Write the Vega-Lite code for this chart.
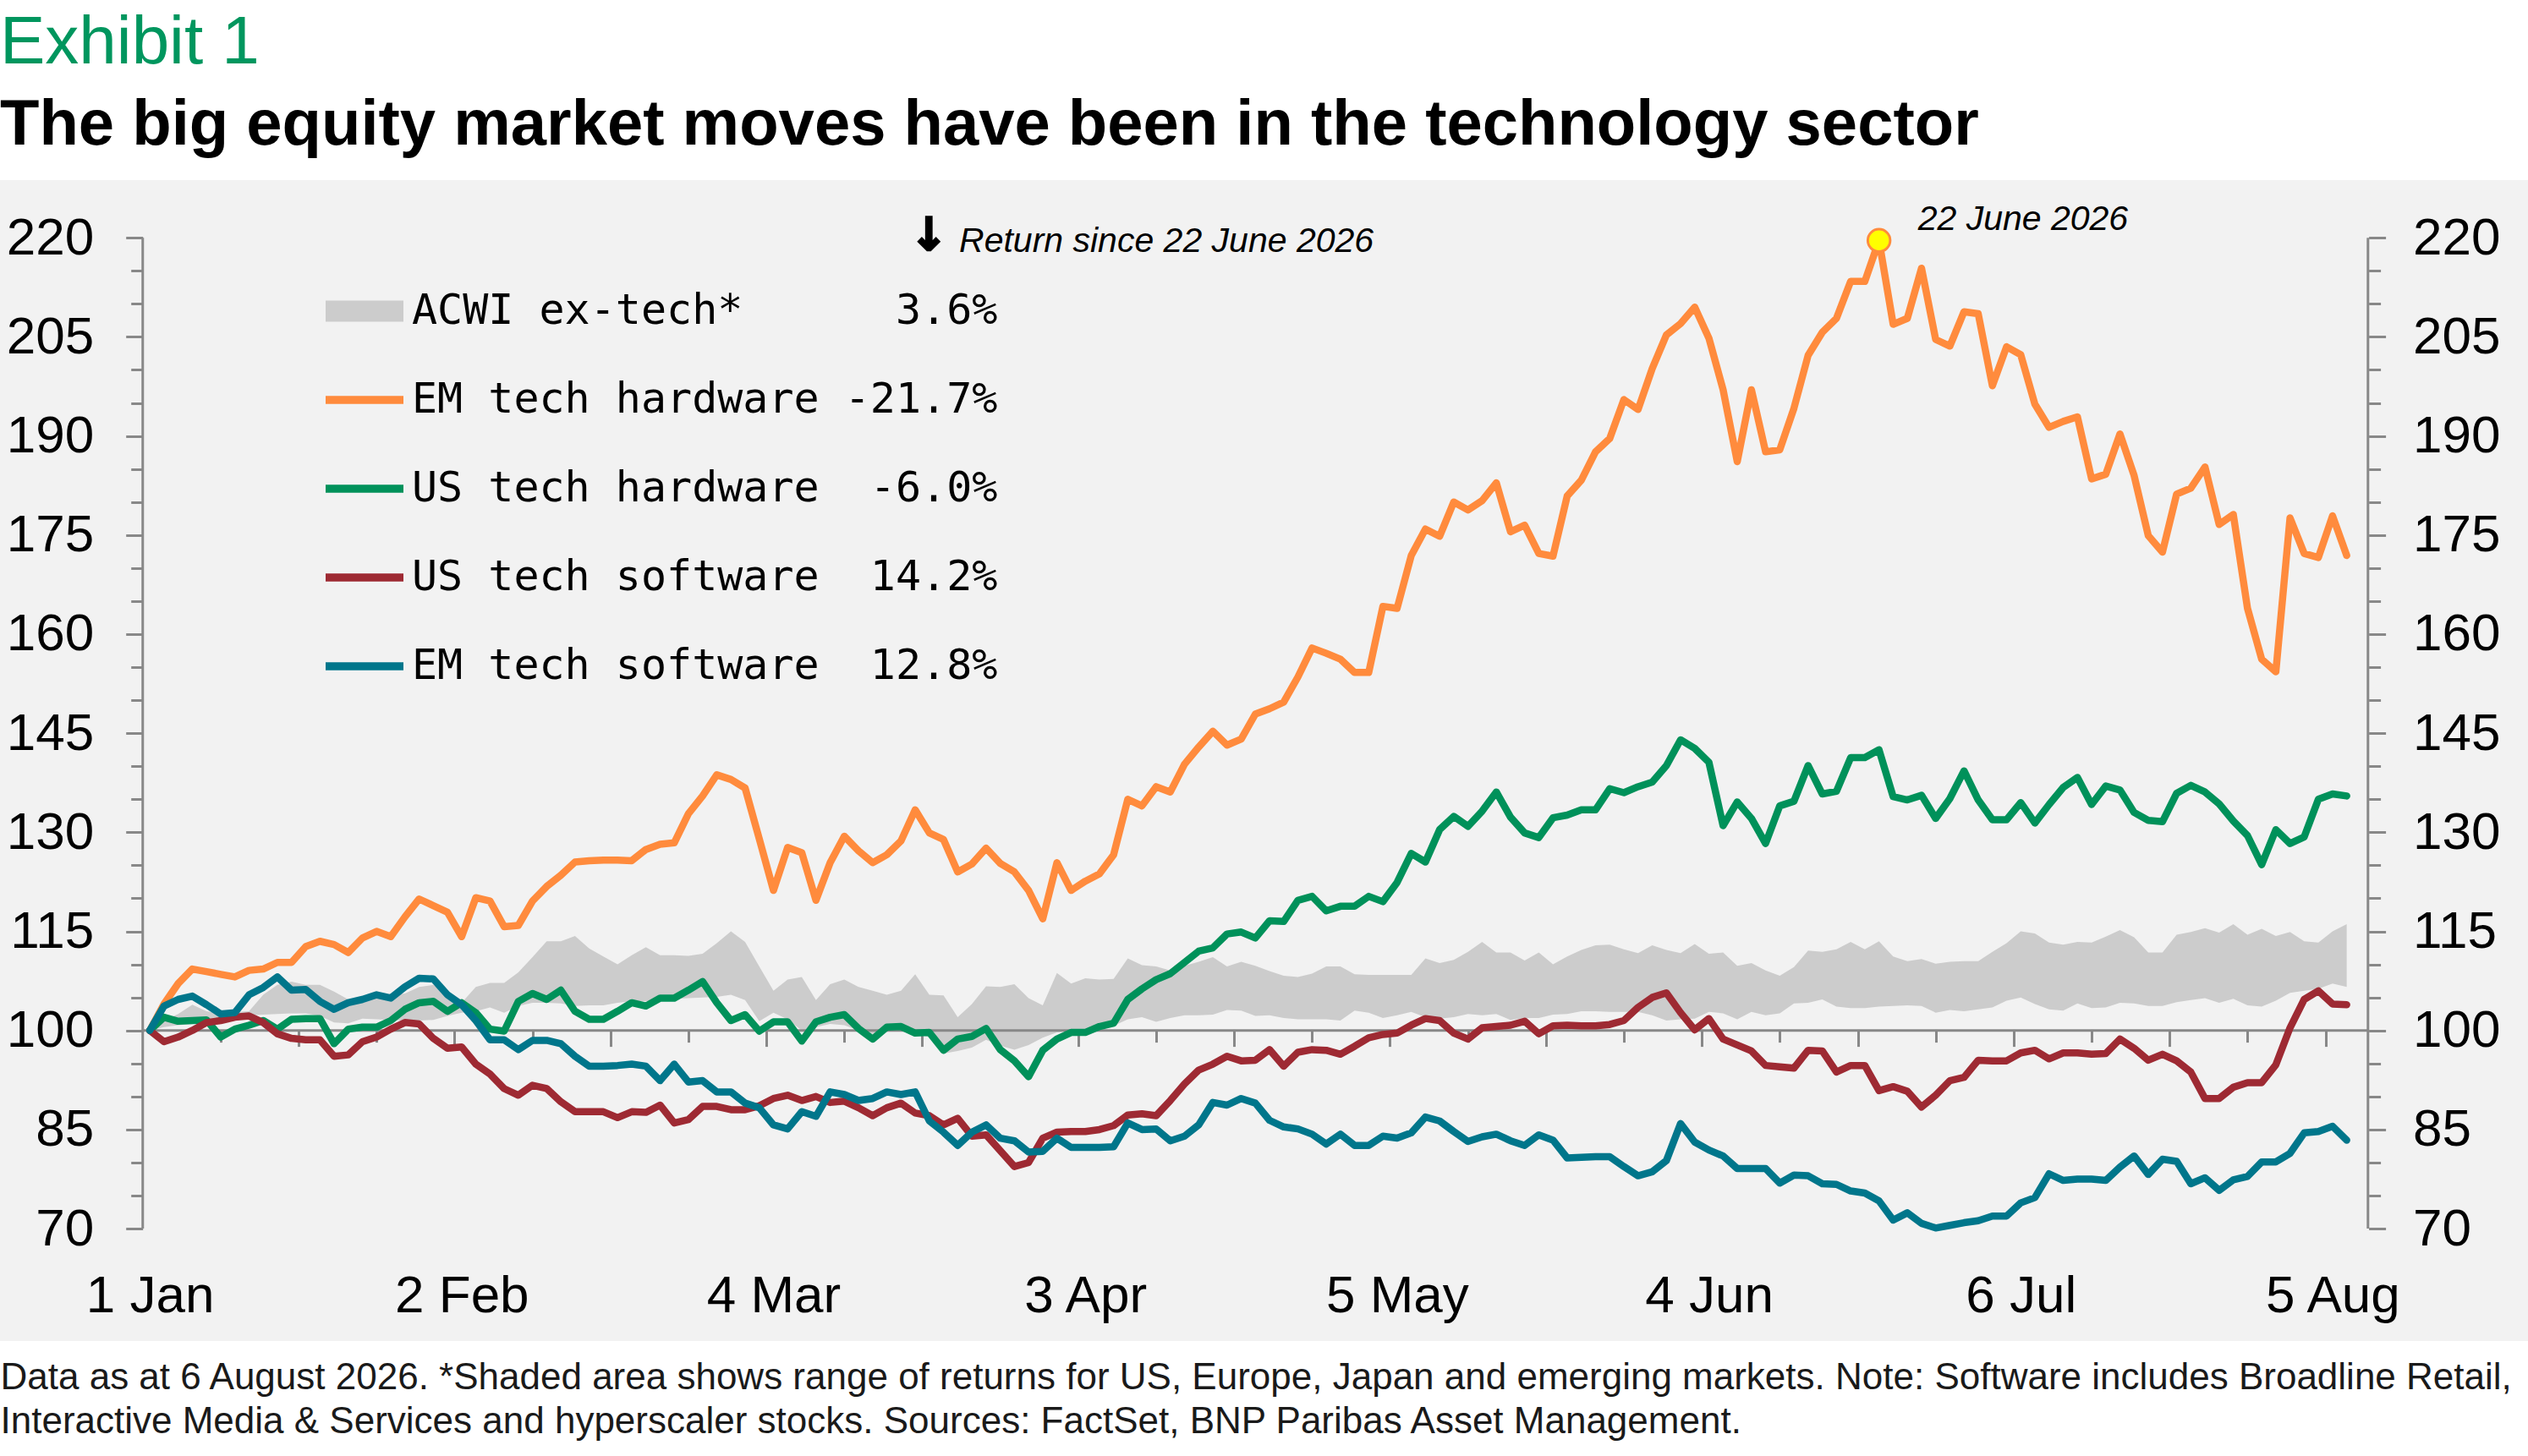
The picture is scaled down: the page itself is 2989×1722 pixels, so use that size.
{
  "$schema": "https://vega.github.io/schema/vega-lite/v6.json",
  "description": "Equity market moves: EM/US tech hardware and software vs ACWI ex-tech range, rebased to 100 on 1 Jan.",
  "width": 2989,
  "height": 1373,
  "autosize": {"type": "none"},
  "padding": {"left": 0, "top": 213, "right": 0, "bottom": 136},
  "background": "white",
  "config": {
    "view": {"fill": "#f2f2f2", "stroke": null},
    "font": "Liberation Sans"
  },
  "title": {
    "text": "Exhibit 1",
    "subtitle": "The big equity market moves have been in the technology sector",
    "anchor": "start",
    "frame": "group",
    "orient": "top",
    "font": "Liberation Sans",
    "fontSize": 80,
    "fontWeight": "normal",
    "color": "#00965e",
    "subtitleFont": "Liberation Sans",
    "subtitleFontSize": 76,
    "subtitleFontWeight": "bold",
    "subtitleColor": "#000000",
    "subtitlePadding": 19,
    "offset": 26
  },
  "data": {
    "values": [
      {"t":0,"EMH":100,"USH":100,"USS":100,"EMS":100,"lo":100,"hi":100},
      {"t":1,"EMH":104.0,"USH":102.0,"USS":98.3,"EMS":103.7,"lo":100.5,"hi":101.5},
      {"t":2,"EMH":107.1,"USH":101.4,"USS":99.0,"EMS":104.7,"lo":100.8,"hi":102.5},
      {"t":3,"EMH":109.3,"USH":101.5,"USS":100.0,"EMS":105.2,"lo":101.0,"hi":103.9},
      {"t":4,"EMH":108.9,"USH":101.6,"USS":101.2,"EMS":103.9,"lo":101.3,"hi":102.9},
      {"t":5,"EMH":108.5,"USH":99.0,"USS":101.5,"EMS":102.5,"lo":101.6,"hi":102.6},
      {"t":6,"EMH":108.1,"USH":100.2,"USS":102.0,"EMS":102.7,"lo":101.8,"hi":102.8},
      {"t":7,"EMH":109.1,"USH":100.8,"USS":102.2,"EMS":105.4,"lo":102.3,"hi":102.9},
      {"t":8,"EMH":109.3,"USH":101.5,"USS":101.2,"EMS":106.5,"lo":102.4,"hi":105.4},
      {"t":9,"EMH":110.3,"USH":100.2,"USS":99.5,"EMS":108.1,"lo":102.5,"hi":106.9},
      {"t":10,"EMH":110.3,"USH":101.7,"USS":98.8,"EMS":106.1,"lo":102.6,"hi":107.4},
      {"t":11,"EMH":112.7,"USH":101.8,"USS":98.6,"EMS":106.2,"lo":102.6,"hi":106.9},
      {"t":12,"EMH":113.5,"USH":101.8,"USS":98.6,"EMS":104.4,"lo":102.2,"hi":106.9},
      {"t":13,"EMH":113.0,"USH":98.0,"USS":96.1,"EMS":103.2,"lo":101.2,"hi":105.9},
      {"t":14,"EMH":111.8,"USH":100.2,"USS":96.3,"EMS":104.2,"lo":101.1,"hi":104.7},
      {"t":15,"EMH":114.0,"USH":100.5,"USS":98.3,"EMS":104.7,"lo":101.8,"hi":105.0},
      {"t":16,"EMH":115.0,"USH":100.5,"USS":99.0,"EMS":105.4,"lo":101.7,"hi":105.2},
      {"t":17,"EMH":114.2,"USH":101.5,"USS":100.2,"EMS":104.9,"lo":101.6,"hi":105.3},
      {"t":18,"EMH":117.2,"USH":103.2,"USS":101.2,"EMS":106.6,"lo":101.5,"hi":105.6},
      {"t":19,"EMH":119.9,"USH":104.2,"USS":101.0,"EMS":107.9,"lo":101.5,"hi":106.6},
      {"t":20,"EMH":118.9,"USH":104.4,"USS":98.8,"EMS":107.8,"lo":101.6,"hi":106.9},
      {"t":21,"EMH":117.9,"USH":102.9,"USS":97.3,"EMS":105.4,"lo":102.2,"hi":105.5},
      {"t":22,"EMH":114.2,"USH":104.2,"USS":97.5,"EMS":103.9,"lo":102.7,"hi":104.2},
      {"t":23,"EMH":120.1,"USH":102.7,"USS":94.9,"EMS":101.5,"lo":102.9,"hi":106.6},
      {"t":24,"EMH":119.6,"USH":100.2,"USS":93.4,"EMS":98.6,"lo":103.5,"hi":107.2},
      {"t":25,"EMH":115.7,"USH":99.9,"USS":91.2,"EMS":98.6,"lo":102.7,"hi":107.2},
      {"t":26,"EMH":115.9,"USH":104.4,"USS":90.2,"EMS":97.1,"lo":103.7,"hi":108.8},
      {"t":27,"EMH":119.6,"USH":105.6,"USS":91.7,"EMS":98.5,"lo":104.2,"hi":111.1},
      {"t":28,"EMH":121.8,"USH":104.7,"USS":91.2,"EMS":98.5,"lo":104.2,"hi":113.5},
      {"t":29,"EMH":123.5,"USH":106.1,"USS":89.2,"EMS":98.0,"lo":104.1,"hi":113.5},
      {"t":30,"EMH":125.5,"USH":102.9,"USS":87.7,"EMS":96.1,"lo":103.7,"hi":114.3},
      {"t":31,"EMH":125.7,"USH":101.7,"USS":87.7,"EMS":94.6,"lo":103.8,"hi":112.4},
      {"t":32,"EMH":125.8,"USH":101.7,"USS":87.7,"EMS":94.6,"lo":103.8,"hi":111.2},
      {"t":33,"EMH":125.8,"USH":102.9,"USS":86.8,"EMS":94.7,"lo":104.2,"hi":110.0},
      {"t":34,"EMH":125.7,"USH":104.2,"USS":87.7,"EMS":94.9,"lo":104.4,"hi":111.4},
      {"t":35,"EMH":127.4,"USH":103.7,"USS":87.6,"EMS":94.6,"lo":104.4,"hi":112.6},
      {"t":36,"EMH":128.2,"USH":104.9,"USS":88.7,"EMS":92.4,"lo":104.7,"hi":111.4},
      {"t":37,"EMH":128.4,"USH":104.9,"USS":86.0,"EMS":94.9,"lo":104.8,"hi":111.4},
      {"t":38,"EMH":132.8,"USH":106.1,"USS":86.5,"EMS":92.2,"lo":104.9,"hi":111.3},
      {"t":39,"EMH":135.5,"USH":107.4,"USS":88.5,"EMS":92.4,"lo":105.0,"hi":111.6},
      {"t":40,"EMH":138.7,"USH":104.2,"USS":88.5,"EMS":90.7,"lo":105.1,"hi":113.2},
      {"t":41,"EMH":138.0,"USH":101.5,"USS":88.0,"EMS":90.7,"lo":105.4,"hi":115.0},
      {"t":42,"EMH":136.7,"USH":102.4,"USS":88.0,"EMS":89.0,"lo":104.6,"hi":113.4},
      {"t":43,"EMH":129.0,"USH":99.9,"USS":88.6,"EMS":88.3,"lo":101.4,"hi":109.7},
      {"t":44,"EMH":121.2,"USH":101.3,"USS":89.7,"EMS":85.7,"lo":102.7,"hi":106.0},
      {"t":45,"EMH":127.7,"USH":101.3,"USS":90.2,"EMS":85.1,"lo":101.7,"hi":107.7},
      {"t":46,"EMH":126.9,"USH":98.4,"USS":89.4,"EMS":87.7,"lo":100.0,"hi":108.1},
      {"t":47,"EMH":119.7,"USH":101.3,"USS":90.0,"EMS":87.0,"lo":100.5,"hi":104.6},
      {"t":48,"EMH":125.4,"USH":102.0,"USS":89.1,"EMS":90.7,"lo":101.0,"hi":107.0},
      {"t":49,"EMH":129.4,"USH":102.4,"USS":89.3,"EMS":90.3,"lo":100.8,"hi":107.7},
      {"t":50,"EMH":127.2,"USH":100.3,"USS":88.3,"EMS":89.4,"lo":100.0,"hi":106.6},
      {"t":51,"EMH":125.4,"USH":98.7,"USS":87.1,"EMS":89.7,"lo":99.5,"hi":106.0},
      {"t":52,"EMH":126.6,"USH":100.5,"USS":88.3,"EMS":90.7,"lo":100.0,"hi":105.4},
      {"t":53,"EMH":128.7,"USH":100.6,"USS":89.0,"EMS":90.3,"lo":100.0,"hi":106.0},
      {"t":54,"EMH":133.4,"USH":99.6,"USS":87.5,"EMS":90.7,"lo":99.4,"hi":108.5},
      {"t":55,"EMH":129.9,"USH":99.7,"USS":87.1,"EMS":86.3,"lo":99.0,"hi":105.4},
      {"t":56,"EMH":128.9,"USH":97.0,"USS":85.7,"EMS":84.6,"lo":96.5,"hi":105.3},
      {"t":57,"EMH":124.0,"USH":98.7,"USS":86.7,"EMS":82.6,"lo":96.9,"hi":102.0},
      {"t":58,"EMH":125.2,"USH":99.1,"USS":84.0,"EMS":84.6,"lo":97.4,"hi":104.0},
      {"t":59,"EMH":127.6,"USH":100.3,"USS":84.2,"EMS":85.7,"lo":98.6,"hi":106.7},
      {"t":60,"EMH":125.3,"USH":97.1,"USS":81.8,"EMS":83.7,"lo":97.7,"hi":106.6},
      {"t":61,"EMH":124.0,"USH":95.4,"USS":79.4,"EMS":83.3,"lo":97.1,"hi":107.0},
      {"t":62,"EMH":121.2,"USH":93.0,"USS":80.0,"EMS":81.6,"lo":97.8,"hi":104.9},
      {"t":63,"EMH":116.9,"USH":97.0,"USS":83.7,"EMS":81.7,"lo":98.9,"hi":103.8},
      {"t":64,"EMH":125.4,"USH":98.7,"USS":84.6,"EMS":83.7,"lo":99.7,"hi":108.7},
      {"t":65,"EMH":121.2,"USH":99.7,"USS":84.7,"EMS":82.3,"lo":100.0,"hi":107.1},
      {"t":66,"EMH":122.6,"USH":99.7,"USS":84.7,"EMS":82.3,"lo":100.0,"hi":107.9},
      {"t":67,"EMH":123.7,"USH":100.6,"USS":85.0,"EMS":82.3,"lo":100.5,"hi":107.7},
      {"t":68,"EMH":126.6,"USH":101.1,"USS":85.6,"EMS":82.4,"lo":100.7,"hi":107.8},
      {"t":69,"EMH":135.0,"USH":104.7,"USS":87.2,"EMS":86.0,"lo":101.7,"hi":110.9},
      {"t":70,"EMH":134.0,"USH":106.3,"USS":87.4,"EMS":85.0,"lo":102.0,"hi":109.9},
      {"t":71,"EMH":136.9,"USH":107.7,"USS":87.1,"EMS":85.1,"lo":101.3,"hi":109.7},
      {"t":72,"EMH":136.1,"USH":108.6,"USS":89.4,"EMS":83.3,"lo":101.9,"hi":109.1},
      {"t":73,"EMH":140.3,"USH":110.3,"USS":91.9,"EMS":84.0,"lo":102.3,"hi":109.8},
      {"t":74,"EMH":142.9,"USH":112.0,"USS":94.0,"EMS":85.7,"lo":102.3,"hi":110.4},
      {"t":75,"EMH":145.3,"USH":112.5,"USS":94.9,"EMS":89.1,"lo":102.4,"hi":111.1},
      {"t":76,"EMH":143.2,"USH":114.6,"USS":96.1,"EMS":88.7,"lo":103.1,"hi":109.7},
      {"t":77,"EMH":144.1,"USH":114.9,"USS":95.4,"EMS":89.7,"lo":103.0,"hi":110.4},
      {"t":78,"EMH":147.9,"USH":114.0,"USS":95.5,"EMS":89.0,"lo":102.2,"hi":109.8},
      {"t":79,"EMH":148.7,"USH":116.6,"USS":97.1,"EMS":86.4,"lo":102.3,"hi":109.0},
      {"t":80,"EMH":149.7,"USH":116.5,"USS":94.6,"EMS":85.4,"lo":101.9,"hi":108.3},
      {"t":81,"EMH":153.5,"USH":119.7,"USS":96.7,"EMS":85.1,"lo":101.7,"hi":108.1},
      {"t":82,"EMH":157.9,"USH":120.3,"USS":97.1,"EMS":84.3,"lo":101.7,"hi":108.6},
      {"t":83,"EMH":157.1,"USH":118.1,"USS":97.0,"EMS":82.8,"lo":101.7,"hi":109.7},
      {"t":84,"EMH":156.2,"USH":118.8,"USS":96.4,"EMS":84.3,"lo":101.5,"hi":109.7},
      {"t":85,"EMH":154.2,"USH":118.8,"USS":97.6,"EMS":82.6,"lo":103.0,"hi":108.5},
      {"t":86,"EMH":154.2,"USH":120.3,"USS":98.9,"EMS":82.6,"lo":102.7,"hi":108.4},
      {"t":87,"EMH":164.2,"USH":119.5,"USS":99.4,"EMS":84.0,"lo":101.9,"hi":108.4},
      {"t":88,"EMH":163.9,"USH":122.4,"USS":99.6,"EMS":83.7,"lo":102.3,"hi":108.4},
      {"t":89,"EMH":171.9,"USH":126.8,"USS":100.8,"EMS":84.5,"lo":102.8,"hi":108.4},
      {"t":90,"EMH":175.9,"USH":125.5,"USS":101.8,"EMS":86.9,"lo":102.0,"hi":110.9},
      {"t":91,"EMH":174.8,"USH":130.4,"USS":101.5,"EMS":86.3,"lo":101.8,"hi":110.2},
      {"t":92,"EMH":180.0,"USH":132.4,"USS":99.6,"EMS":84.7,"lo":102.0,"hi":110.7},
      {"t":93,"EMH":178.8,"USH":130.9,"USS":98.7,"EMS":83.2,"lo":102.5,"hi":111.9},
      {"t":94,"EMH":180.2,"USH":133.2,"USS":100.4,"EMS":83.9,"lo":102.3,"hi":113.4},
      {"t":95,"EMH":182.9,"USH":136.1,"USS":100.6,"EMS":84.3,"lo":102.5,"hi":111.8},
      {"t":96,"EMH":175.5,"USH":132.3,"USS":100.8,"EMS":83.3,"lo":101.6,"hi":111.8},
      {"t":97,"EMH":176.5,"USH":129.9,"USS":101.4,"EMS":82.6,"lo":101.9,"hi":110.6},
      {"t":98,"EMH":172.2,"USH":129.2,"USS":99.5,"EMS":84.2,"lo":101.9,"hi":111.8},
      {"t":99,"EMH":171.8,"USH":132.2,"USS":100.7,"EMS":83.4,"lo":102.4,"hi":110.0},
      {"t":100,"EMH":180.9,"USH":132.6,"USS":100.8,"EMS":80.7,"lo":102.5,"hi":111.2},
      {"t":101,"EMH":183.3,"USH":133.4,"USS":100.7,"EMS":80.8,"lo":102.9,"hi":112.2},
      {"t":102,"EMH":187.6,"USH":133.4,"USS":100.7,"EMS":80.9,"lo":102.9,"hi":112.9},
      {"t":103,"EMH":189.6,"USH":136.6,"USS":100.9,"EMS":80.9,"lo":102.8,"hi":113.0},
      {"t":104,"EMH":195.5,"USH":136.0,"USS":101.5,"EMS":79.4,"lo":102.8,"hi":112.3},
      {"t":105,"EMH":194.0,"USH":136.9,"USS":103.5,"EMS":78.0,"lo":102.8,"hi":111.7},
      {"t":106,"EMH":200.2,"USH":137.6,"USS":105.0,"EMS":78.6,"lo":102.3,"hi":112.9},
      {"t":107,"EMH":205.3,"USH":140.1,"USS":105.7,"EMS":80.3,"lo":101.5,"hi":112.2},
      {"t":108,"EMH":207.0,"USH":144.0,"USS":102.7,"EMS":85.9,"lo":101.7,"hi":111.7},
      {"t":109,"EMH":209.5,"USH":142.7,"USS":100.1,"EMS":83.1,"lo":101.8,"hi":113.1},
      {"t":110,"EMH":204.8,"USH":140.6,"USS":101.8,"EMS":81.9,"lo":102.8,"hi":111.6},
      {"t":111,"EMH":197.0,"USH":131.0,"USS":98.7,"EMS":81.0,"lo":102.6,"hi":111.8},
      {"t":112,"EMH":186.1,"USH":134.6,"USS":97.8,"EMS":79.1,"lo":101.7,"hi":109.8},
      {"t":113,"EMH":197.0,"USH":132.1,"USS":96.9,"EMS":79.1,"lo":102.8,"hi":110.2},
      {"t":114,"EMH":187.6,"USH":128.3,"USS":94.7,"EMS":79.1,"lo":102.3,"hi":109.1},
      {"t":115,"EMH":187.9,"USH":134.0,"USS":94.5,"EMS":76.9,"lo":102.6,"hi":108.3},
      {"t":116,"EMH":194.2,"USH":134.7,"USS":94.3,"EMS":78.1,"lo":104.1,"hi":109.6},
      {"t":117,"EMH":202.2,"USH":140.1,"USS":97.0,"EMS":78.0,"lo":104.2,"hi":112.1},
      {"t":118,"EMH":205.7,"USH":135.8,"USS":96.9,"EMS":76.8,"lo":104.7,"hi":111.9},
      {"t":119,"EMH":207.8,"USH":136.2,"USS":93.7,"EMS":76.7,"lo":103.6,"hi":112.3},
      {"t":120,"EMH":213.4,"USH":141.3,"USS":94.7,"EMS":75.7,"lo":103.4,"hi":113.4},
      {"t":121,"EMH":213.4,"USH":141.3,"USS":94.7,"EMS":75.4,"lo":103.4,"hi":112.3},
      {"t":122,"EMH":219.6,"USH":142.5,"USS":90.9,"EMS":74.2,"lo":103.6,"hi":113.5},
      {"t":123,"EMH":206.9,"USH":135.4,"USS":91.5,"EMS":71.3,"lo":103.7,"hi":111.2},
      {"t":124,"EMH":207.8,"USH":134.9,"USS":90.8,"EMS":72.4,"lo":103.8,"hi":110.5},
      {"t":125,"EMH":215.4,"USH":135.6,"USS":88.4,"EMS":70.8,"lo":103.7,"hi":110.8},
      {"t":126,"EMH":204.6,"USH":132.1,"USS":90.2,"EMS":70.1,"lo":102.7,"hi":110.1},
      {"t":127,"EMH":203.6,"USH":135.1,"USS":92.4,"EMS":70.5,"lo":103.1,"hi":110.4},
      {"t":128,"EMH":208.8,"USH":139.3,"USS":92.9,"EMS":70.9,"lo":102.9,"hi":110.5},
      {"t":129,"EMH":208.5,"USH":134.9,"USS":95.5,"EMS":71.2,"lo":103.2,"hi":110.5},
      {"t":130,"EMH":197.6,"USH":131.9,"USS":95.4,"EMS":71.9,"lo":103.5,"hi":111.9},
      {"t":131,"EMH":203.5,"USH":131.9,"USS":95.4,"EMS":71.9,"lo":104.5,"hi":113.2},
      {"t":132,"EMH":202.3,"USH":134.5,"USS":96.6,"EMS":73.9,"lo":105.0,"hi":115.0},
      {"t":133,"EMH":194.8,"USH":131.4,"USS":97.0,"EMS":74.7,"lo":104.0,"hi":114.7},
      {"t":134,"EMH":191.3,"USH":134.2,"USS":95.7,"EMS":78.3,"lo":103.2,"hi":113.3},
      {"t":135,"EMH":192.2,"USH":136.8,"USS":96.6,"EMS":77.3,"lo":103.0,"hi":113.0},
      {"t":136,"EMH":192.9,"USH":138.3,"USS":96.6,"EMS":77.5,"lo":104.1,"hi":113.4},
      {"t":137,"EMH":183.5,"USH":134.2,"USS":96.4,"EMS":77.5,"lo":103.4,"hi":113.3},
      {"t":138,"EMH":184.2,"USH":137.0,"USS":96.5,"EMS":77.3,"lo":103.5,"hi":114.2},
      {"t":139,"EMH":190.3,"USH":136.4,"USS":98.7,"EMS":79.3,"lo":104.2,"hi":115.2},
      {"t":140,"EMH":184.0,"USH":133.0,"USS":97.3,"EMS":81.0,"lo":104.1,"hi":114.1},
      {"t":141,"EMH":174.9,"USH":131.8,"USS":95.5,"EMS":78.2,"lo":103.7,"hi":111.8},
      {"t":142,"EMH":172.4,"USH":131.6,"USS":96.4,"EMS":80.5,"lo":103.7,"hi":111.8},
      {"t":143,"EMH":181.2,"USH":135.9,"USS":95.4,"EMS":80.2,"lo":104.3,"hi":114.5},
      {"t":144,"EMH":182.1,"USH":137.1,"USS":93.7,"EMS":76.8,"lo":104.6,"hi":114.9},
      {"t":145,"EMH":185.3,"USH":136.1,"USS":89.7,"EMS":77.7,"lo":104.9,"hi":115.5},
      {"t":146,"EMH":176.6,"USH":134.3,"USS":89.7,"EMS":75.8,"lo":104.2,"hi":114.8},
      {"t":147,"EMH":178.1,"USH":131.7,"USS":91.4,"EMS":77.4,"lo":104.8,"hi":116.1},
      {"t":148,"EMH":163.9,"USH":129.5,"USS":92.1,"EMS":77.9,"lo":103.8,"hi":114.5},
      {"t":149,"EMH":156.2,"USH":125.1,"USS":92.1,"EMS":80.1,"lo":103.6,"hi":115.4},
      {"t":150,"EMH":154.3,"USH":130.4,"USS":94.8,"EMS":80.1,"lo":104.5,"hi":114.3},
      {"t":151,"EMH":177.6,"USH":128.3,"USS":100.4,"EMS":81.4,"lo":105.7,"hi":114.9},
      {"t":152,"EMH":172.2,"USH":129.3,"USS":104.7,"EMS":84.5,"lo":106.0,"hi":113.5},
      {"t":153,"EMH":171.6,"USH":135.0,"USS":106.0,"EMS":84.7,"lo":106.3,"hi":113.3},
      {"t":154,"EMH":177.9,"USH":135.8,"USS":104.0,"EMS":85.5,"lo":107.1,"hi":115.0},
      {"t":155,"EMH":171.9,"USH":135.5,"USS":103.9,"EMS":83.4,"lo":106.6,"hi":116.1}
    ]
  },
  "layer": [
    {
      "mark": {"type": "area", "opacity": 1},
      "encoding": {
        "x": {
          "field": "t", "type": "quantitative",
          "scale": {"domain": [-10.57, 167.79], "nice": false, "zero": false},
          "axis": {
            "orient": "bottom", "offset": -94,
            "values": [0, 22, 44, 66, 88, 110, 132, 154],
            "labelExpr": "['1 Jan','2 Feb','4 Mar','3 Apr','5 May','4 Jun','6 Jul','5 Aug'][round(datum.value / 22)]",
            "domain": false, "ticks": false, "tickSize": 0, "grid": false,
            "labelPadding": 10, "labelFont": "Liberation Sans", "labelFontSize": 62, "labelColor": "#000000",
            "labelFlush": false, "labelOverlap": false,
            "title": [
              "Data as at 6 August 2026. *Shaded area shows range of returns for US, Europe, Japan and emerging markets. Note: Software includes Broadline Retail,",
              "Interactive Media & Services and hyperscaler stocks. Sources: FactSet, BNP Paribas Asset Management."
            ],
            "titleAnchor": "start", "titleAlign": "left", "titleBaseline": "alphabetic",
            "titleX": 0, "titleY": 150,
            "titleFont": "Liberation Sans",
            "titleFontSize": 44, "titleFontWeight": "normal", "titleColor": "#1a1a1a", "titleLineHeight": 52
          }
        },
        "y": {
          "field": "lo", "type": "quantitative",
          "scale": {"domain": [52.99, 228.73], "nice": false, "zero": false},
          "axis": {
            "orient": "left", "offset": -168.7,
            "values": [70,75,80,85,90,95,100,105,110,115,120,125,130,135,140,145,150,155,160,165,170,175,180,185,190,195,200,205,210,215,220],
            "labelExpr": "(datum.value - 70) % 15 === 0 ? datum.label : ''",
            "domain": false, "grid": false, "title": null,
            "tickColor": "#888888", "tickWidth": 3,
            "tickSize": {"condition": {"test": "(datum.value - 70) % 15 === 0", "value": 20}, "value": 14},
            "labelPadding": 38, "labelFont": "Liberation Sans", "labelFontSize": 62, "labelColor": "#000000",
            "labelFlush": false, "labelOverlap": false
          }
        },
        "y2": {"field": "hi"},
        "color": {
          "datum": "ACWI", "type": "nominal",
          "scale": {
            "domain": ["ACWI", "EMH", "USH", "USS", "EMS"],
            "range": ["#cccccc", "#ff8b3d", "#00915a", "#9e2a33", "#00768b"]
          }
        }
      }
    },
    {
      "data": {"values": [{}]},
      "mark": {"type": "rule", "color": "#888888", "strokeWidth": 3},
      "encoding": {
        "x": {"datum": -0.5, "type": "quantitative", "axis": null},
        "y": {"datum": 70, "type": "quantitative", "axis": null},
        "y2": {"datum": 220}
      }
    },
    {
      "data": {"values": [{}]},
      "mark": {"type": "rule", "color": "#888888", "strokeWidth": 3},
      "encoding": {
        "x": {"datum": 156.5, "type": "quantitative", "axis": null},
        "y": {"datum": 70, "type": "quantitative", "axis": null},
        "y2": {"datum": 220}
      }
    },
    {
      "data": {"values": [{}]},
      "mark": {"type": "rule", "color": "#888888", "strokeWidth": 3},
      "encoding": {
        "x": {"datum": -0.5, "type": "quantitative", "axis": null},
        "x2": {"datum": 156.5},
        "y": {"datum": 100, "type": "quantitative", "axis": null}
      }
    },
    {
      "transform": [{"fold": ["EMH", "USH", "USS", "EMS"], "as": ["s", "v"]}],
      "mark": {"type": "line", "strokeWidth": 8.5, "strokeJoin": "round", "strokeCap": "round"},
      "encoding": {
        "x": {
          "field": "t", "type": "quantitative",
          "scale": {"domain": [-10.57, 167.79], "nice": false, "zero": false},
          "axis": {
            "orient": "bottom", "offset": -367.4,
            "values": [5,10.5,16,21.5,27,32.5,38,43.5,49,54.5,60,65.5,71,76.5,82,87.5,93,98.5,104,109.5,115,120.5,126,131.5,137,142.5,148,153.5],
            "labels": false, "domain": false, "grid": false, "title": null,
            "tickColor": "#888888", "tickWidth": 3,
            "tickSize": {"condition": {"test": "(datum.value + 0.5) % 11 === 0", "value": 19}, "value": 14}
          }
        },
        "y": {
          "field": "v", "type": "quantitative",
          "scale": {"domain": [52.99, 228.73], "nice": false, "zero": false},
          "axis": {
            "orient": "right", "offset": -188.4,
            "values": [70,75,80,85,90,95,100,105,110,115,120,125,130,135,140,145,150,155,160,165,170,175,180,185,190,195,200,205,210,215,220],
            "labelExpr": "(datum.value - 70) % 15 === 0 ? datum.label : ''",
            "domain": false, "grid": false, "title": null,
            "tickColor": "#888888", "tickWidth": 3,
            "tickSize": {"condition": {"test": "(datum.value - 70) % 15 === 0", "value": 20}, "value": 14},
            "labelPadding": 32, "labelFont": "Liberation Sans", "labelFontSize": 62, "labelColor": "#000000",
            "labelFlush": false, "labelOverlap": false
          }
        },
        "color": {
          "field": "s", "type": "nominal",
          "scale": {
            "domain": ["ACWI", "EMH", "USH", "USS", "EMS"],
            "range": ["#cccccc", "#ff8b3d", "#00915a", "#9e2a33", "#00768b"]
          },
          "legend": {
            "orient": "none", "legendX": 385, "legendY": 109, "title": null, "direction": "vertical",
            "padding": 0, "rowPadding": 34, "labelOffset": 10, "labelLimit": 0,
            "labelFont": "DejaVu Sans Mono", "labelFontSize": 50, "labelColor": "#000000",
            "symbolType": "M-1,-0.105H1V0.105H-1Z", "symbolSize": 8464, "symbolStrokeWidth": 0,
            "labelExpr": "datum.value === 'ACWI' ? 'ACWI ex-tech*\u00a0\u00a0\u00a0\u00a0\u00a0\u00a03.6%' : datum.value === 'EMH' ? 'EM tech hardware -21.7%' : datum.value === 'USH' ? 'US tech hardware\u00a0\u00a0-6.0%' : datum.value === 'USS' ? 'US tech software\u00a0\u00a014.2%' : 'EM tech software\u00a0\u00a012.8%'",
            "encode": {
              "symbols": {
                "update": {
                  "shape": {"signal": "datum.value === 'ACWI' ? 'M-1,-0.27H1V0.27H-1Z' : 'M-1,-0.105H1V0.105H-1Z'"},
                  "fill": {"signal": "scale('color', datum.value)"},
                  "stroke": {"value": "transparent"},
                  "opacity": {"value": 1}
                }
              }
            }
          }
        }
      }
    },
    {
      "transform": [{"filter": "datum.t === 122"}],
      "mark": {"type": "circle", "color": "#ffff00", "stroke": "#ff8b3d", "strokeWidth": 3, "size": 700, "opacity": 1},
      "encoding": {
        "x": {"field": "t", "type": "quantitative", "axis": null},
        "y": {"field": "EMH", "type": "quantitative", "axis": null}
      }
    },
    {
      "transform": [{"filter": "datum.t === 122"}],
      "mark": {"type": "text", "text": "22 June 2026", "align": "left", "baseline": "middle", "dx": 46, "dy": -24, "font": "Liberation Sans", "fontStyle": "italic", "fontSize": 41, "color": "#000000"},
      "encoding": {
        "x": {"field": "t", "type": "quantitative", "axis": null},
        "y": {"field": "EMH", "type": "quantitative", "axis": null}
      }
    },
    {
      "data": {"values": [{}]},
      "mark": {"type": "text", "text": "Return since 22 June 2026", "align": "left", "baseline": "middle", "font": "Liberation Sans", "fontStyle": "italic", "fontSize": 41, "color": "#000000"},
      "encoding": {
        "x": {"datum": 57.1, "type": "quantitative", "axis": null},
        "y": {"datum": 219.4, "type": "quantitative", "axis": null}
      }
    },
    {
      "data": {"values": [{}]},
      "mark": {"type": "text", "text": "↓", "align": "center", "baseline": "middle", "font": "DejaVu Sans", "fontWeight": "bold", "fontSize": 54, "color": "#000000", "stroke": "#000000", "strokeWidth": 2.5},
      "encoding": {
        "x": {"datum": 54.96, "type": "quantitative", "axis": null},
        "y": {"datum": 220.2, "type": "quantitative", "axis": null}
      }
    }
  ],
  "resolve": {"axis": {"x": "independent", "y": "independent"}}
}
